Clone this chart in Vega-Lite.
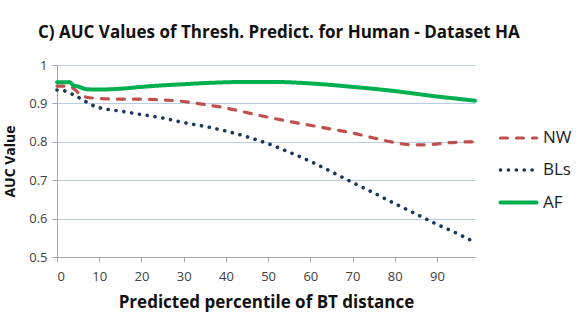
{
  "$schema": "https://vega.github.io/schema/vega-lite/v6.json",
  "autosize": "none",
  "width": 418,
  "height": 192,
  "padding": {"left": 57, "top": 65, "right": 110, "bottom": 69},
  "background": "white",
  "title": {
    "text": "C)  AUC Values of Thresh. Predict. for Human - Dataset HA",
    "anchor": "start",
    "frame": "group",
    "dx": -19,
    "offset": 17,
    "font": "Open Sans",
    "fontSize": 17,
    "fontWeight": "bold",
    "color": "#111111"
  },
  "data": {
    "values": [
      {"p": 0, "auc": 0.945, "s": "NW"}, {"p": 1, "auc": 0.945, "s": "NW"}, {"p": 2, "auc": 0.945, "s": "NW"}, {"p": 3, "auc": 0.945, "s": "NW"},
      {"p": 4, "auc": 0.938, "s": "NW"}, {"p": 5, "auc": 0.928, "s": "NW"}, {"p": 6, "auc": 0.921, "s": "NW"}, {"p": 7, "auc": 0.916, "s": "NW"},
      {"p": 10, "auc": 0.913, "s": "NW"}, {"p": 15, "auc": 0.911, "s": "NW"}, {"p": 20, "auc": 0.911, "s": "NW"}, {"p": 25, "auc": 0.909, "s": "NW"},
      {"p": 30, "auc": 0.905, "s": "NW"}, {"p": 35, "auc": 0.897, "s": "NW"}, {"p": 40, "auc": 0.888, "s": "NW"}, {"p": 45, "auc": 0.876, "s": "NW"},
      {"p": 50, "auc": 0.864, "s": "NW"}, {"p": 55, "auc": 0.853, "s": "NW"}, {"p": 60, "auc": 0.843, "s": "NW"}, {"p": 65, "auc": 0.833, "s": "NW"},
      {"p": 70, "auc": 0.823, "s": "NW"}, {"p": 75, "auc": 0.81, "s": "NW"}, {"p": 80, "auc": 0.798, "s": "NW"}, {"p": 83, "auc": 0.793, "s": "NW"},
      {"p": 86, "auc": 0.792, "s": "NW"}, {"p": 89, "auc": 0.793, "s": "NW"}, {"p": 92, "auc": 0.797, "s": "NW"}, {"p": 95, "auc": 0.799, "s": "NW"},
      {"p": 99, "auc": 0.8, "s": "NW"},
      {"p": 0, "auc": 0.935, "s": "BLs"}, {"p": 2, "auc": 0.932, "s": "BLs"}, {"p": 4, "auc": 0.922, "s": "BLs"}, {"p": 6, "auc": 0.91, "s": "BLs"},
      {"p": 8, "auc": 0.897, "s": "BLs"}, {"p": 10, "auc": 0.889, "s": "BLs"}, {"p": 15, "auc": 0.88, "s": "BLs"}, {"p": 20, "auc": 0.871, "s": "BLs"},
      {"p": 25, "auc": 0.862, "s": "BLs"}, {"p": 30, "auc": 0.85, "s": "BLs"}, {"p": 35, "auc": 0.84, "s": "BLs"}, {"p": 40, "auc": 0.828, "s": "BLs"},
      {"p": 45, "auc": 0.813, "s": "BLs"}, {"p": 50, "auc": 0.795, "s": "BLs"}, {"p": 55, "auc": 0.773, "s": "BLs"}, {"p": 60, "auc": 0.749, "s": "BLs"},
      {"p": 65, "auc": 0.722, "s": "BLs"}, {"p": 70, "auc": 0.694, "s": "BLs"}, {"p": 75, "auc": 0.667, "s": "BLs"}, {"p": 80, "auc": 0.639, "s": "BLs"},
      {"p": 85, "auc": 0.612, "s": "BLs"}, {"p": 90, "auc": 0.585, "s": "BLs"}, {"p": 95, "auc": 0.56, "s": "BLs"}, {"p": 99, "auc": 0.538, "s": "BLs"},
      {"p": 0, "auc": 0.955, "s": "AF"}, {"p": 1, "auc": 0.955, "s": "AF"}, {"p": 2, "auc": 0.955, "s": "AF"}, {"p": 3, "auc": 0.955, "s": "AF"},
      {"p": 4, "auc": 0.946, "s": "AF"}, {"p": 5, "auc": 0.944, "s": "AF"}, {"p": 6, "auc": 0.94, "s": "AF"}, {"p": 7, "auc": 0.937, "s": "AF"},
      {"p": 10, "auc": 0.936, "s": "AF"}, {"p": 13, "auc": 0.937, "s": "AF"}, {"p": 16, "auc": 0.939, "s": "AF"}, {"p": 20, "auc": 0.943, "s": "AF"},
      {"p": 25, "auc": 0.947, "s": "AF"}, {"p": 30, "auc": 0.95, "s": "AF"}, {"p": 35, "auc": 0.953, "s": "AF"}, {"p": 40, "auc": 0.955, "s": "AF"},
      {"p": 45, "auc": 0.956, "s": "AF"}, {"p": 50, "auc": 0.956, "s": "AF"}, {"p": 55, "auc": 0.955, "s": "AF"}, {"p": 60, "auc": 0.952, "s": "AF"},
      {"p": 65, "auc": 0.948, "s": "AF"}, {"p": 70, "auc": 0.943, "s": "AF"}, {"p": 75, "auc": 0.938, "s": "AF"}, {"p": 80, "auc": 0.932, "s": "AF"},
      {"p": 85, "auc": 0.925, "s": "AF"}, {"p": 90, "auc": 0.918, "s": "AF"}, {"p": 95, "auc": 0.912, "s": "AF"}, {"p": 99, "auc": 0.907, "s": "AF"}
    ]
  },
  "mark": {"type": "line", "interpolate": "monotone", "strokeCap": "round"},
  "encoding": {
    "x": {
      "field": "p", "type": "quantitative",
      "scale": {"domain": [0, 99], "nice": false, "zero": false},
      "axis": {
        "title": "Predicted percentile of BT distance",
        "values": [0, 10, 20, 30, 40, 50, 60, 70, 80, 90],
        "grid": false,
        "domainColor": "#a6a6a6", "tickColor": "#a6a6a6", "tickSize": 5,
        "labelFont": "Open Sans", "labelFontSize": 13, "labelColor": "#404040", "labelPadding": 8,
        "titleFont": "Open Sans", "titleFontSize": 17, "titleFontWeight": "bold", "titleColor": "#111111", "titlePadding": 11
      }
    },
    "y": {
      "field": "auc", "type": "quantitative",
      "scale": {"domain": [0.5, 1], "nice": false, "zero": false},
      "axis": {
        "title": "AUC Value",
        "values": [0.5, 0.6, 0.7, 0.8, 0.9, 1],
        "format": ".2~f",
        "gridColor": "#b9cde5", "gridWidth": 1.2,
        "domainColor": "#a6a6a6", "tickColor": "#a6a6a6", "tickSize": 5,
        "labelFont": "Open Sans", "labelFontSize": 13, "labelColor": "#404040", "labelPadding": 5,
        "titleFont": "Open Sans", "titleFontSize": 14, "titleFontWeight": "bold", "titleColor": "#111111", "titlePadding": 11
      }
    },
    "color": {
      "field": "s", "type": "nominal", "sort": ["NW", "BLs", "AF"],
      "scale": {"domain": ["NW", "BLs", "AF"], "range": ["#c0504d", "#17375e", "#00b050"]},
      "legend": {
        "title": null, "orient": "none", "legendX": 441, "legendY": 53,
        "symbolType": "stroke", "symbolSize": 1300, "symbolStrokeWidth": 3.2,
        "labelFont": "Open Sans", "labelFontSize": 17, "labelColor": "#222222",
        "rowPadding": 4, "labelOffset": 4,
        "encode": {"symbols": {"update": {"strokeCap": {"value": "round"}, "strokeWidth": {"value": 3.2}}}}
      }
    },
    "strokeDash": {
      "field": "s", "type": "nominal", "sort": ["NW", "BLs", "AF"],
      "scale": {"domain": ["NW", "BLs", "AF"], "range": [[7, 9], [0.1, 7.8], [1, 0]]},
      "legend": null
    },
    "strokeWidth": {
      "field": "s", "type": "nominal",
      "scale": {"domain": ["NW", "BLs", "AF"], "range": [3.2, 4, 3.2]},
      "legend": null
    }
  },
  "config": {"view": {"stroke": null}}
}
